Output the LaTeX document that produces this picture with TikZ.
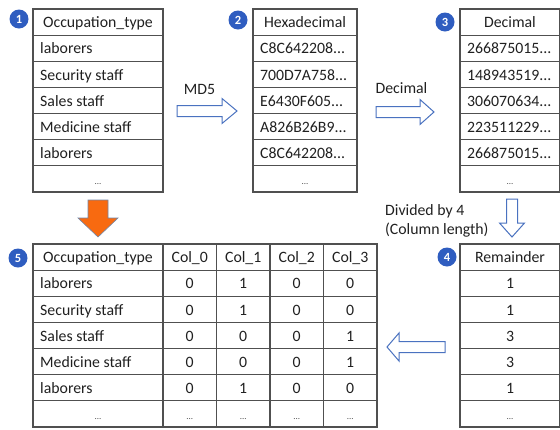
\documentclass[tikz,border=0pt]{standalone}
\usepackage{fontspec}
\setmainfont{Carlito}
\definecolor{gridc}{HTML}{505050}
\definecolor{txt}{HTML}{202020}
\definecolor{badgec}{HTML}{2F5DC0}
\definecolor{arrowblue}{HTML}{4A72C0}
\definecolor{orangec}{HTML}{F86A10}
\definecolor{orangeedge}{HTML}{7086A8}
\newcommand\mydd{...}
\begin{document}
\begin{tikzpicture}[x=1pt,y=-1pt,
  grid/.style={draw=gridc, line width=1.1pt},
  lt/.style={anchor=base west, inner sep=0pt, text=txt, font=\fontsize{15.8}{19}\selectfont},
  ct/.style={anchor=base, inner sep=0pt, text=txt, font=\fontsize{15.8}{19}\selectfont},
  dots/.style={anchor=base, inner sep=0pt, text=gridc, font=\fontsize{9}{10}\selectfont},
  badge/.style={circle, fill=badgec, text=white, inner sep=0pt, minimum size=19pt, font=\bfseries\fontsize{12.5}{12.5}\selectfont},
  hollow/.style={draw=arrowblue, fill=white, line width=1pt, line join=miter},
  orangearrow/.style={draw=orangeedge, fill=orangec, line width=0.6pt, line join=miter},
  lbl/.style={inner sep=0pt, text=txt, font=\fontsize{15.8}{19}\selectfont}
]
\useasboundingbox (0,0) rectangle (560,429);
\def\rh{26.14}

% ---------- Table 1 ----------
\foreach \i in {0,...,6} { \draw[grid] (33,{9+\i*\rh}) rectangle (163,{9+(\i+1)*\rh}); }
\node[ct] (t1h) at (98,{9+0.5*\rh+5.7}) {Occupation\_type};
\foreach \t [count=\i] in {laborers, Security staff, Sales staff, Medicine staff, laborers}
  \node[lt] (t1r\i) at (40,{9+(\i+0.5)*\rh+5.7}) {\t};
\node[dots] (t1d) at (98,{9+6.5*\rh+5.7}) {\mydd};
\node[badge] (b1) at (19,19) {1};

% ---------- Table 2 ----------
\foreach \i in {0,...,6} { \draw[grid] (253,{9+\i*\rh}) rectangle (357,{9+(\i+1)*\rh}); }
\node[ct] (t2h) at (305,{9+0.5*\rh+5.7}) {Hexadecimal};
\foreach \t [count=\i] in {C8C642208\mydd, 700D7A758\mydd, E6430F605\mydd, A826B26B9\mydd, C8C642208\mydd}
  \node[lt] (t2r\i) at (260,{9+(\i+0.5)*\rh+5.7}) {\t};
\node[dots] (t2d) at (305,{9+6.5*\rh+5.7}) {\mydd};
\node[badge] (b2) at (238,20) {2};

% ---------- Table 3 ----------
\foreach \i in {0,...,6} { \draw[grid] (460,{9+\i*\rh}) rectangle (559.4,{9+(\i+1)*\rh}); }
\node[ct] (t3h) at (510,{9+0.5*\rh+5.7}) {Decimal};
\foreach \t [count=\i] in {266875015\mydd, 148943519\mydd, 306070634\mydd, 223511229\mydd, 266875015\mydd}
  \node[lt] (t3r\i) at (467,{9+(\i+0.5)*\rh+5.7}) {\t};
\node[dots] (t3d) at (510,{9+6.5*\rh+5.7}) {\mydd};
\node[badge] (b3) at (445,22) {3};

% ---------- Table 4 ----------
\foreach \i in {0,...,6} { \draw[grid] (460,{244+\i*\rh}) rectangle (559.4,{244+(\i+1)*\rh}); }
\node[ct] (t4h) at (510,{244+0.5*\rh+5.7}) {Remainder};
\foreach \t [count=\i] in {1,1,3,3,1}
  \node[ct] (t4r\i) at (510,{244+(\i+0.5)*\rh+5.7}) {\t};
\node[dots] (t4d) at (510,{244+6.5*\rh+5.7}) {\mydd};
\node[badge] (b4) at (447,257) {4};

% ---------- Table 5 ----------
\foreach \i in {0,...,6} {
  \draw[grid] (33,{244+\i*\rh}) rectangle (163,{244+(\i+1)*\rh});
  \draw[grid] (163,{244+\i*\rh}) rectangle (216.5,{244+(\i+1)*\rh});
  \draw[grid] (216.5,{244+\i*\rh}) rectangle (270,{244+(\i+1)*\rh});
  \draw[grid] (270,{244+\i*\rh}) rectangle (323.5,{244+(\i+1)*\rh});
  \draw[grid] (323.5,{244+\i*\rh}) rectangle (377,{244+(\i+1)*\rh});
}
\node[ct] (t5h0) at (98,{244+0.5*\rh+5.7}) {Occupation\_type};
\node[ct] (t5h1) at (189.75,{244+0.5*\rh+5.7}) {Col\_0};
\node[ct] (t5h2) at (243.25,{244+0.5*\rh+5.7}) {Col\_1};
\node[ct] (t5h3) at (296.75,{244+0.5*\rh+5.7}) {Col\_2};
\node[ct] (t5h4) at (350.25,{244+0.5*\rh+5.7}) {Col\_3};
\foreach \t/\a/\b/\c/\d [count=\i] in {laborers/0/1/0/0, Security staff/0/1/0/0, Sales staff/0/0/0/1, Medicine staff/0/0/0/1, laborers/0/1/0/0} {
  \node[lt] (t5r\i n) at (40,{244+(\i+0.5)*\rh+5.7}) {\t};
  \node[ct] (t5r\i a) at (189.75,{244+(\i+0.5)*\rh+5.7}) {\a};
  \node[ct] (t5r\i b) at (243.25,{244+(\i+0.5)*\rh+5.7}) {\b};
  \node[ct] (t5r\i c) at (296.75,{244+(\i+0.5)*\rh+5.7}) {\c};
  \node[ct] (t5r\i d) at (350.25,{244+(\i+0.5)*\rh+5.7}) {\d};
}
\foreach \x [count=\k] in {98,189.75,243.25,296.75,350.25}
  \node[dots] (t5d\k) at (\x,{244+6.5*\rh+5.7}) {\mydd};
\node[badge] (b5) at (18,258) {5};

% ---------- Arrows ----------
\draw[hollow] (177,105.5) -- (222,105.5) -- (222,98.5) -- (237,111) -- (222,123.5) -- (222,116.5) -- (177,116.5) -- cycle;
\draw[hollow] (376,106.5) -- (420,106.5) -- (420,99.5) -- (434,112) -- (420,124.5) -- (420,117.5) -- (376,117.5) -- cycle;
\draw[hollow] (506.5,199) -- (506.5,223) -- (499.5,223) -- (512,237) -- (524.5,223) -- (517.5,223) -- (517.5,199) -- cycle;
\draw[hollow] (445,341.5) -- (399,341.5) -- (399,333) -- (387,347) -- (399,361) -- (399,352.5) -- (445,352.5) -- cycle;
\draw[orangearrow] (88,200) -- (108,200) -- (108,218) -- (118,218) -- (98,237) -- (78,218) -- (88,218) -- cycle;

% ---------- Labels ----------
\node[lbl, anchor=base] (lmd5) at (199.5,94.5) {MD5};
\node[lbl, anchor=base] (ldec) at (401.5,93.5) {Decimal};
\node[lbl, anchor=base west] (ldiv1) at (385,215.5) {Divided by 4};
\node[lbl, anchor=base west] (ldiv2) at (385,234.5) {(Column length)};
\end{tikzpicture}
\end{document}
